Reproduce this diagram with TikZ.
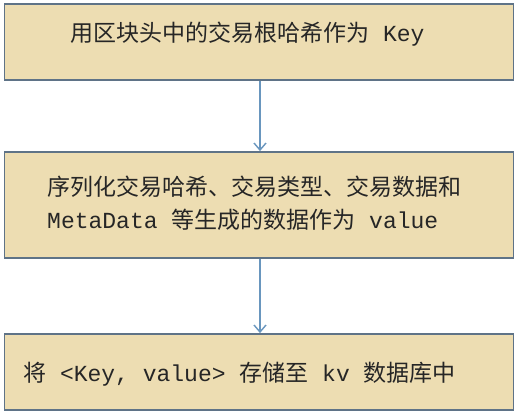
\documentclass[tikz,border=0pt]{standalone}
\usepackage{fontspec}
\setmonofont{Liberation Mono}
\newfontfamily\cjk{Noto Sans CJK SC}
\usetikzlibrary{arrows.meta}
\definecolor{boxfill}{RGB}{237,221,178}
\definecolor{boxline}{RGB}{95,115,135}
\definecolor{arrowc}{RGB}{105,150,190}
\begin{document}
\begin{tikzpicture}[x=1pt,y=1pt,
  box/.style={draw=boxline, line width=1.8pt, fill=boxfill, inner sep=0pt, minimum width=509pt},
  lbl/.style={anchor=base west, inner sep=0pt, font=\fontsize{23}{33}\selectfont\cjk, text=black!85},
  conn/.style={draw=arrowc, line width=1.4pt, -{Straight Barb[length=7pt,width=12pt,line width=1.4pt]}}]
\useasboundingbox (0,0) rectangle (519,418);
\fill[white] (0,0) rectangle (519,418);
\node[box, minimum height=76pt] (b1) at (259,376) {};
\node[box, minimum height=106pt] (b2) at (259,213) {};
\node[box, minimum height=76pt] (b3) at (259,46) {};
\node[lbl] (t1) at (70,376.5) {用区块头中的交易根哈希作为{\ttfamily\ Key}};
\node[lbl] (t2a) at (47,222.5) {序列化交易哈希、交易类型、交易数据和};
\node[lbl] (t2b) at (47,189.5) {{\ttfamily MetaData\ }等生成的数据作为{\ttfamily\ value}};
\node[lbl] (t3) at (23,36.5) {将{\ttfamily\ <Key,\ value>\ }存储至{\ttfamily\ kv\ }数据库中};
\draw[conn] ([xshift=1pt]b1.south) -- ([xshift=1pt]b2.north);
\draw[conn] ([xshift=1pt]b2.south) -- ([xshift=1pt]b3.north);
\end{tikzpicture}
\end{document}
